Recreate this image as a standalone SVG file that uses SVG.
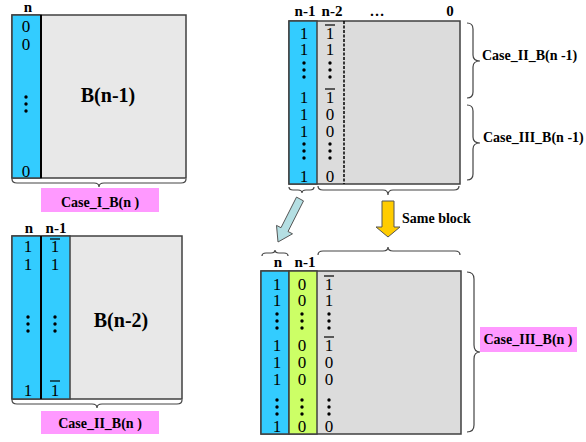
<svg xmlns="http://www.w3.org/2000/svg" width="586" height="442" viewBox="0 0 586 442">
<style>
.hdr{font-family:"Liberation Serif",serif;font-weight:bold;font-size:15px;fill:#000;text-anchor:middle}
.big{font-family:"Liberation Serif",serif;font-weight:bold;font-size:20px;fill:#000;text-anchor:middle}
.lbl{font-family:"Liberation Serif",serif;font-weight:bold;font-size:14px;fill:#000}
.dg{font-family:"Liberation Serif",serif;font-size:17px;fill:#000;text-anchor:middle}
.ol{stroke:#000;stroke-width:1.2}
.blk{stroke:#404040;stroke-width:1.5}
.div{stroke:#000;stroke-width:2}
.brace{fill:none;stroke:#444;stroke-width:1.2}
.pink{fill:#ff99ff}
</style>
<defs>
<g id="vd"><circle cx="0" cy="0" r="1.7"/><circle cx="0" cy="7" r="1.7"/><circle cx="0" cy="14" r="1.7"/></g>
</defs>

<g id="blockA">
<rect x="12" y="15" width="174" height="163" fill="#e8e8e8" class="blk"/>
<rect x="12" y="15" width="29" height="163" fill="#33ccff" class="blk"/>
<line x1="41" y1="15" x2="41" y2="178" class="div"/>
<text class="hdr" x="28" y="12" font-size="14">n</text>
<text class="dg" x="26" y="32">0</text>
<text class="dg" x="26" y="50">0</text>
<use href="#vd" x="26" y="97"/>
<text class="dg" x="26" y="177">0</text>
<text class="big" x="108" y="102">B(n-1)</text>
</g>

<g id="labelA">
<rect x="41" y="188" width="118" height="24" class="pink"/>
<text class="lbl" x="100" y="207" text-anchor="middle">Case_I_B(n )</text>
</g>

<g id="blockB">
<rect x="12" y="236" width="170" height="163" fill="#e8e8e8" class="blk"/>
<rect x="12" y="236" width="58" height="163" fill="#33ccff" class="blk"/>
<line x1="41" y1="236" x2="41" y2="399" class="div"/>
<text class="hdr" x="29" y="233">n</text>
<text class="hdr" x="56" y="233">n-1</text>
<text class="dg" x="28" y="252">1</text>
<text class="dg" x="28" y="270">1</text>
<use href="#vd" x="28" y="317"/>
<text class="dg" x="28" y="396">1</text>
<line x1="50" y1="239" x2="60" y2="239" class="ol"/>
<text class="dg" x="55" y="252">1</text>
<text class="dg" x="55" y="270">1</text>
<use href="#vd" x="55" y="317"/>
<line x1="50" y1="381" x2="60" y2="381" class="ol"/>
<text class="dg" x="55" y="396">1</text>
<text class="big" x="121" y="327">B(n-2)</text>
</g>

<g id="labelB">
<rect x="41" y="411" width="118" height="23" class="pink"/>
<text class="lbl" x="100" y="428" text-anchor="middle">Case_II_B(n )</text>
</g>

<g id="blockC">
<rect x="289" y="21" width="171" height="163" fill="#dcdcdc" class="blk"/>
<rect x="289" y="21" width="28" height="163" fill="#33ccff" class="blk"/>
<line x1="344" y1="21" x2="344" y2="184" stroke="#000" stroke-width="1.5" stroke-dasharray="3,1.5"/>
<text class="hdr" x="305" y="16">n-1</text>
<text class="hdr" x="332" y="16">n-2</text>
<text class="hdr" x="377" y="16">…</text>
<text class="hdr" x="450" y="16">0</text>
<text class="dg" x="304" y="39">1</text>
<text class="dg" x="304" y="55">1</text>
<use href="#vd" x="304" y="63"/>
<text class="dg" x="304" y="103">1</text>
<text class="dg" x="304" y="120">1</text>
<text class="dg" x="304" y="137">1</text>
<use href="#vd" x="304" y="144"/>
<text class="dg" x="304" y="182">1</text>
<line x1="325" y1="25" x2="335" y2="25" class="ol"/>
<text class="dg" x="330" y="39">1</text>
<text class="dg" x="330" y="55">1</text>
<use href="#vd" x="330" y="63"/>
<line x1="325" y1="89" x2="335" y2="89" class="ol"/>
<text class="dg" x="330" y="103">1</text>
<text class="dg" x="330" y="120">0</text>
<text class="dg" x="330" y="137">0</text>
<use href="#vd" x="330" y="144"/>
<text class="dg" x="330" y="182">0</text>
</g>

<g id="labelC1"><text class="lbl" x="482" y="60">Case_II_B(n -1)</text></g>
<g id="labelC2"><text class="lbl" x="483" y="142">Case_III_B(n -1)</text></g>

<g id="blockD">
<rect x="261" y="271" width="200" height="163" fill="#dcdcdc" class="blk"/>
<rect x="261" y="271" width="28" height="163" fill="#33ccff" class="blk"/>
<rect x="289" y="271" width="28" height="163" fill="#ccff66" class="blk"/>
<text class="hdr" x="278" y="267">n</text>
<text class="hdr" x="305" y="267">n-1</text>
<text class="dg" x="277" y="290">1</text>
<text class="dg" x="277" y="306">1</text>
<use href="#vd" x="277" y="314"/>
<text class="dg" x="277" y="351">1</text>
<text class="dg" x="277" y="368">1</text>
<text class="dg" x="277" y="385">1</text>
<use href="#vd" x="277" y="400"/>
<text class="dg" x="277" y="432">1</text>
<text class="dg" x="302" y="290">0</text>
<text class="dg" x="302" y="306">0</text>
<use href="#vd" x="302" y="314"/>
<text class="dg" x="302" y="351">0</text>
<text class="dg" x="302" y="368">0</text>
<text class="dg" x="302" y="385">0</text>
<use href="#vd" x="302" y="400"/>
<text class="dg" x="302" y="432">0</text>
<line x1="324" y1="276" x2="334" y2="276" class="ol"/>
<text class="dg" x="329" y="290">1</text>
<text class="dg" x="329" y="306">1</text>
<use href="#vd" x="329" y="314"/>
<line x1="324" y1="337" x2="334" y2="337" class="ol"/>
<text class="dg" x="329" y="351">1</text>
<text class="dg" x="329" y="368">0</text>
<text class="dg" x="329" y="385">0</text>
<use href="#vd" x="329" y="400"/>
<text class="dg" x="329" y="432">0</text>
</g>

<g id="labelD">
<rect x="480" y="327" width="97" height="25" class="pink"/>
<text class="lbl" x="528" y="344" text-anchor="middle">Case_III_B(n )</text>
</g>

<g id="sameBlock"><text class="lbl" x="402" y="223">Same block</text></g>

<g id="connectors">
<path class="brace" d="M12,179 Q12,183 17,183 L94,183 Q99,183 99,187 Q99,183 104,183 L181,183 Q186,183 186,179"/>
<path class="brace" d="M12,400 Q12,404 17,404 L92,404 Q97,404 97,408 Q97,404 102,404 L177,404 Q182,404 182,400"/>
<path class="brace" d="M289,187 Q289,190 293,190 L298,190 Q302,190 302,193 Q302,190 306,190 L310,190 Q314,190 314,187"/>
<path class="brace" d="M318,186 Q318,190 323,190 L383,190 Q388,190 388,195 Q388,190 393,190 L454,190 Q459,190 459,186"/>
<path class="brace" d="M262,256 Q262,253 266,253 L271,253 Q275,253 275,250 Q275,253 279,253 L284,253 Q288,253 288,256"/>
<path class="brace" d="M318,255 Q318,251 323,251 L383,251 Q388,251 388,247 Q388,251 393,251 L455,251 Q460,251 460,255"/>
<path class="brace" d="M467,23 Q473,23 473,29 L473,55 Q473,61 480,61 Q473,61 473,67 L473,92 Q473,98 467,98"/>
<path class="brace" d="M467,105 Q473,105 473,111 L473,137 Q473,143 480,143 Q473,143 473,149 L473,174 Q473,180 467,180"/>
<path class="brace" d="M467,272 Q474,272 474,279 L474,345 Q474,352 480,352 Q474,352 474,359 L474,425 Q474,432 467,432"/>
<polygon points="296.5,197.1 303.5,200.9 288,231.5 292.5,233.8 278,242 276.5,225.4 281,227.7" fill="#b4dfe3" stroke="#555" stroke-width="1"/>
<polygon points="382,201 394,201 394,227 400,227 388,237 376,227 382,227" fill="#ffcc00" stroke="#555" stroke-width="1"/>
</g>
</svg>
